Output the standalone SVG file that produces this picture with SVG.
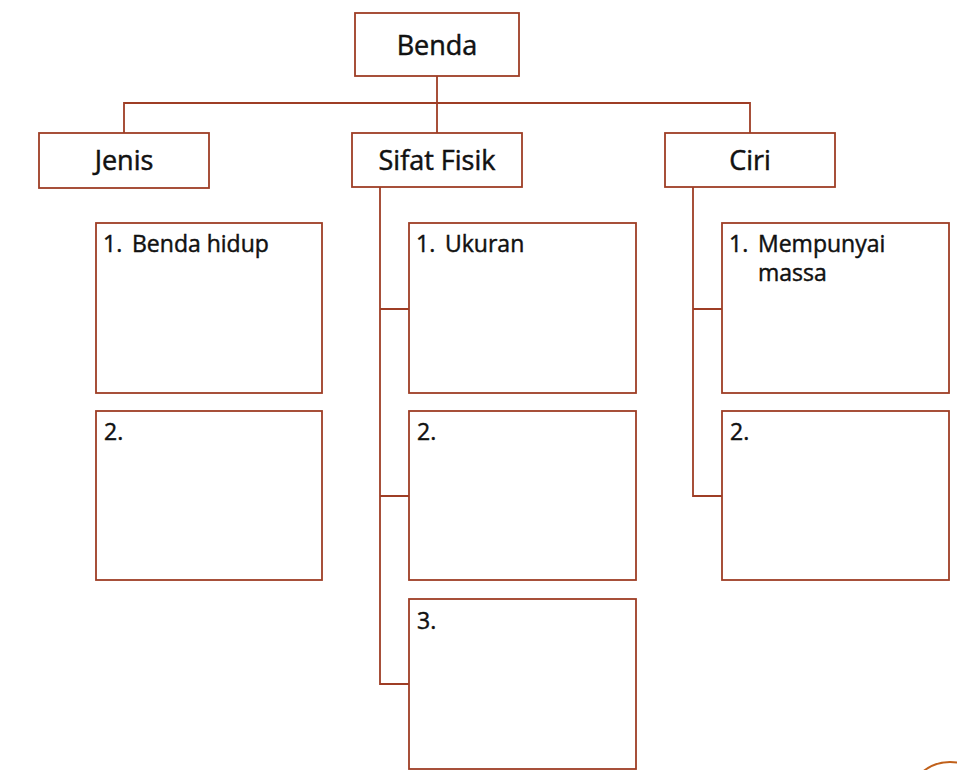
<svg xmlns="http://www.w3.org/2000/svg" width="957" height="770" viewBox="0 0 957 770">
<style>
.box{fill:#fff;stroke:#9e3d25;stroke-width:1.8}
.ln{fill:none;stroke:#9e3d25;stroke-width:1.8}
.h{font-family:"Open Sans","Liberation Sans",sans-serif;font-size:27px;fill:#111;stroke:#111;stroke-width:0.5;text-anchor:middle}
.t{font-family:"Open Sans","Liberation Sans",sans-serif;font-size:23px;fill:#111;stroke:#111;stroke-width:0.45}
</style>
<rect width="957" height="770" fill="#fff"/>
<g id="connectors">
<path class="ln" d="M437 76V133M124 133V103H750V133"/>
<path class="ln" d="M380 187V684H409M380 309H409M380 496H409"/>
<path class="ln" d="M693 187V496H722M693 309H722"/>
</g>
<g id="benda"><rect class="box" x="355" y="13" width="164" height="63"/><text class="h" x="437" y="55">Benda</text></g>
<g id="jenis"><rect class="box" x="39" y="133" width="170" height="55"/><text class="h" x="124" y="170">Jenis</text></g>
<g id="sifat"><rect class="box" x="352" y="133" width="170" height="54"/><text class="h" x="437" y="170">Sifat Fisik</text></g>
<g id="ciri"><rect class="box" x="665" y="133" width="170" height="54"/><text class="h" x="750" y="170">Ciri</text></g>
<g id="jenis1"><rect class="box" x="96" y="223" width="226" height="170"/><text class="t" x="103" y="252">1.</text><text class="t" x="132" y="252">Benda hidup</text></g>
<g id="jenis2"><rect class="box" x="96" y="411" width="226" height="169"/><text class="t" x="104" y="440">2.</text></g>
<g id="sifat1"><rect class="box" x="409" y="223" width="227" height="170"/><text class="t" x="416" y="252">1.</text><text class="t" x="445" y="252">Ukuran</text></g>
<g id="sifat2"><rect class="box" x="409" y="411" width="227" height="169"/><text class="t" x="417" y="440">2.</text></g>
<g id="sifat3"><rect class="box" x="409" y="599" width="227" height="170"/><text class="t" x="417" y="629">3.</text></g>
<g id="ciri1"><rect class="box" x="722" y="223" width="227" height="170"/><text class="t" x="729" y="252">1.</text><text class="t" x="758" y="252">Mempunyai</text><text class="t" x="758" y="281">massa</text></g>
<g id="ciri2"><rect class="box" x="722" y="411" width="227" height="169"/><text class="t" x="730" y="440">2.</text></g>
<circle cx="950" cy="805" r="43" fill="none" stroke="#c0601a" stroke-width="2"/>
</svg>
